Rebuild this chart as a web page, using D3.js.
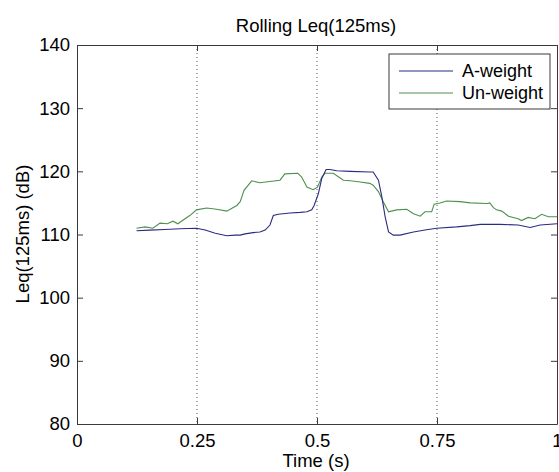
<!DOCTYPE html>
<html><head><meta charset="utf-8">
<script src="https://cdn.jsdelivr.net/npm/d3@7"></script>
<style>body{margin:0;background:#fff}svg{display:block}text{font-family:"Liberation Sans",Arial,sans-serif;fill:#000}</style>
</head><body><svg id="c" width="559" height="472"></svg>
<script>
const title = "Rolling Leq(125ms)";
const xLabel = "Time (s)";
const yLabel = "Leq(125ms) (dB)";
const xTicks = [0, 0.25, 0.5, 0.75, 1];
const xTickLabels = ["0", "0.25", "0.5", "0.75", "1"];
const yTicks = [80, 90, 100, 110, 120, 130, 140];
const gridX = [0.25, 0.5, 0.75];
const seriesNames = ["A-weight", "Un-weight"];

const aTime = [0.124,0.152,0.183,0.215,0.249,0.267,0.288,0.312,0.329,0.340,0.350,0.367,0.381,0.392,0.402,0.409,0.419,0.444,0.465,0.479,0.489,0.494,0.503,0.510,0.519,0.527,0.541,0.569,0.610,0.617,0.628,0.635,0.642,0.649,0.659,0.673,0.701,0.725,0.749,0.791,0.819,0.840,0.881,0.919,0.944,0.965,1.0];
const aValues = [110.6,110.7,110.8,110.9,111.0,110.7,110.2,109.8,109.9,109.9,110.1,110.3,110.4,110.7,111.5,113.0,113.2,113.4,113.5,113.6,113.9,114.6,116.5,118.9,120.3,120.3,120.1,120.0,119.9,119.9,118.6,116.0,112.8,110.4,109.9,109.9,110.4,110.7,111.0,111.2,111.4,111.6,111.6,111.5,111.1,111.5,111.7];

const uTime = [0.124,0.142,0.158,0.173,0.188,0.200,0.210,0.225,0.235,0.249,0.270,0.291,0.312,0.333,0.340,0.348,0.364,0.381,0.402,0.423,0.433,0.460,0.468,0.479,0.492,0.501,0.510,0.517,0.534,0.555,0.569,0.590,0.610,0.617,0.628,0.638,0.649,0.666,0.687,0.701,0.715,0.725,0.739,0.744,0.756,0.770,0.798,0.819,0.854,0.860,0.867,0.874,0.885,0.899,0.919,0.926,0.940,0.954,0.968,0.982,1.0];
const uValues = [111.0,111.2,111.0,111.8,111.7,112.1,111.7,112.5,113.0,113.9,114.2,114.0,113.7,114.6,115.2,117.0,118.5,118.2,118.4,118.6,119.6,119.7,119.1,117.5,117.1,117.5,119.1,119.7,119.7,118.6,118.5,118.3,118.1,117.8,116.8,115.2,113.6,113.9,114.0,113.3,112.9,113.6,113.6,114.8,115.0,115.3,115.2,115.0,114.9,115.0,114.3,113.9,113.7,112.9,112.5,112.2,112.7,112.5,113.2,112.8,112.8];

const colors = ["#2b2b82", "#4e8f4e"];
const FS = 18.5;

const svg = d3.select("#c");
const m = {l:77, r:557, t:45, b:424};
const x = d3.scaleLinear().domain([0,1]).range([m.l, m.r]);
const y = d3.scaleLinear().domain([80,140]).range([m.b, m.t]);
const axisCol = "#3a3a3a";

// grid
svg.append("g").selectAll("line").data(gridX).join("line")
  .attr("x1", d=>x(d)).attr("x2", d=>x(d)).attr("y1", m.t).attr("y2", m.b)
  .attr("stroke", "#555").attr("stroke-width", 1).attr("stroke-dasharray", "1,3");

// axes
const axBottom = d3.axisBottom(x).tickValues(xTicks).tickFormat((d,i)=>xTickLabels[i]).tickSizeInner(-6).tickSizeOuter(0).tickPadding(10);
const axTop = d3.axisTop(x).tickValues(xTicks).tickFormat("").tickSizeInner(-6).tickSizeOuter(0);
const axLeft = d3.axisLeft(y).tickValues(yTicks).tickFormat(d3.format("d")).tickSizeInner(-6).tickSizeOuter(0).tickPadding(7);
const axRight = d3.axisRight(y).tickValues(yTicks).tickFormat("").tickSizeInner(-6).tickSizeOuter(0);

function styleAxis(g){
  g.select(".domain").attr("stroke", axisCol).attr("stroke-width", 1);
  g.selectAll(".tick line").attr("stroke", axisCol);
  g.selectAll("text").attr("font-size", FS).attr("font-family", '"Liberation Sans",Arial,sans-serif').attr("fill", "#000");
}
svg.append("g").attr("transform", `translate(0,${m.b})`).call(axBottom).call(styleAxis);
svg.append("g").attr("transform", `translate(0,${m.t})`).call(axTop).call(styleAxis);
svg.append("g").attr("transform", `translate(${m.l},0)`).call(axLeft).call(styleAxis);
svg.append("g").attr("transform", `translate(${m.r},0)`).call(axRight).call(styleAxis);

// lines
const line = d3.line().x(d=>x(d[0])).y(d=>y(d[1]));
const series = [
  aTime.map((t,i)=>[t, aValues[i]]),
  uTime.map((t,i)=>[t, uValues[i]])
];
[1,0].forEach(k=>{
  svg.append("path").datum(series[k]).attr("d", line)
    .attr("fill", "none").attr("stroke", colors[k]).attr("stroke-width", 1.1);
});

// labels
svg.append("text").attr("x", 316).attr("y", 32).attr("text-anchor", "middle").attr("font-size", FS).text(title);
svg.append("text").attr("x", 316).attr("y", 467).attr("text-anchor", "middle").attr("font-size", FS).text(xLabel);
svg.append("text").attr("transform", "translate(28.5,234) rotate(-90)").attr("text-anchor", "middle").attr("font-size", FS).text(yLabel);

// legend
const lg = svg.append("g");
lg.append("rect").attr("x", 389).attr("y", 54).attr("width", 161).attr("height", 55)
  .attr("fill", "#fff").attr("stroke", axisCol).attr("stroke-width", 1);
seriesNames.forEach((n,i)=>{
  const yy = 71 + i*22;
  lg.append("line").attr("x1", 399).attr("x2", 453).attr("y1", yy).attr("y2", yy)
    .attr("stroke", colors[i]).attr("stroke-width", 1.1);
  lg.append("text").attr("x", 462).attr("y", yy).attr("dy", "0.35em").attr("font-size", 18).text(n);
});
</script></body></html>
